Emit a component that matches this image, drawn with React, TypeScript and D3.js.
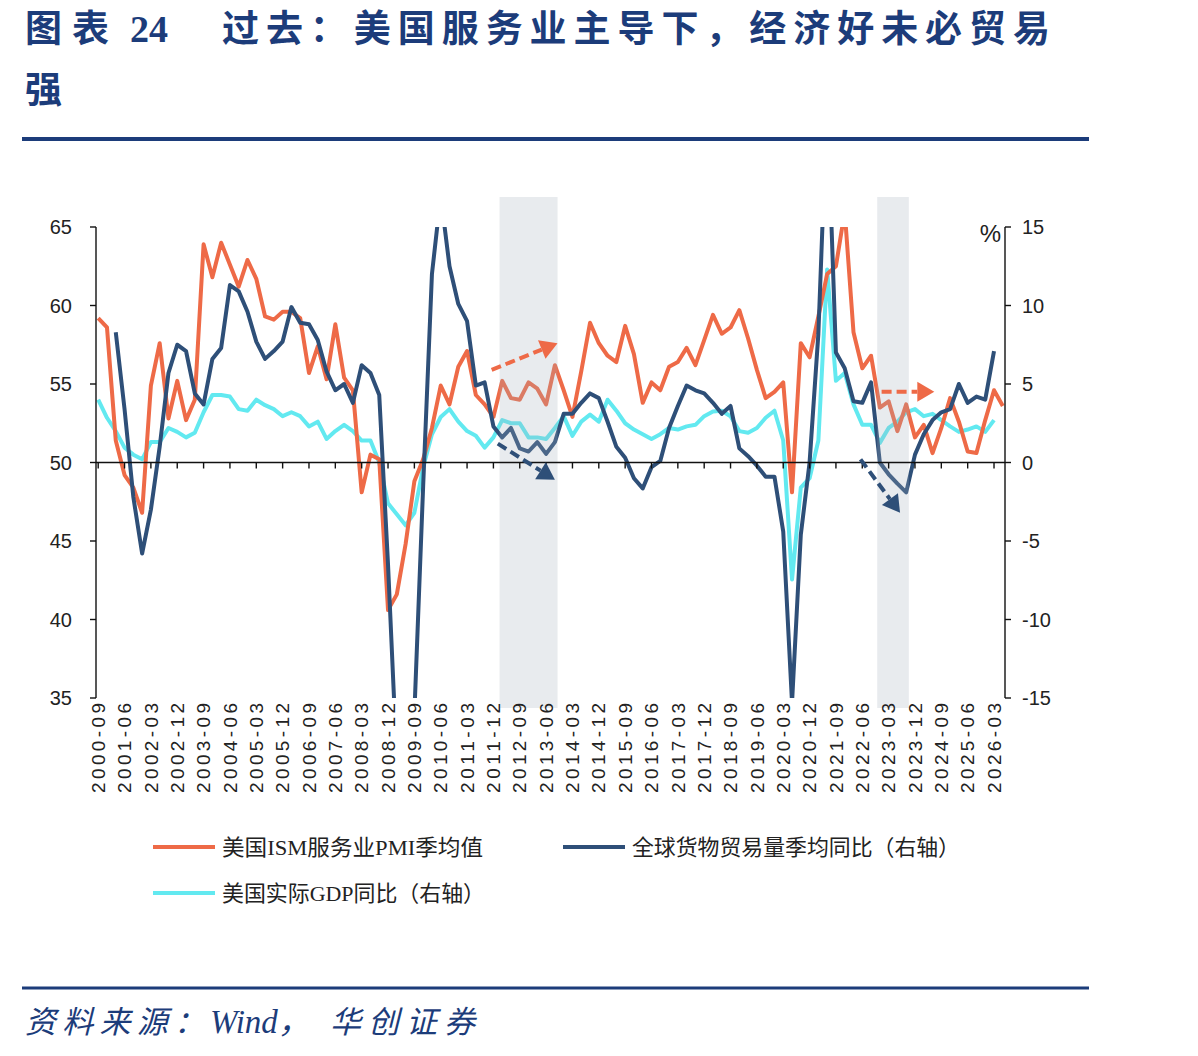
import React from 'react'
import * as d3 from 'd3'

// quarterly categories, 2000-09 .. 2026-06
const quarters: string[] = []
for (let i = 0; i < 104; i++) {
  const m = 9 + i * 3
  const yr = 2000 + Math.floor((m - 1) / 12)
  const mm = ((m - 1) % 12) + 1
  quarters.push(`${yr}-${String(mm).padStart(2, '0')}`)
}

// 美国ISM服务业PMI季均值 (left axis)
const pmi = [
  59.2, 58.6, 51.4, 49.2, 48.4, 46.8, 54.9, 57.6, 52.8, 55.2, 52.7, 54.0, 63.9, 61.8, 64.0, 62.6,
  61.2, 62.9, 61.7, 59.3, 59.1, 59.6, 59.6, 59.2, 55.7, 57.4, 55.3, 58.8, 55.4, 54.6, 48.1, 50.5,
  50.2, 40.6, 41.6, 44.8, 48.8, 50.2, 52.2, 54.9, 53.7, 56.1, 57.1, 54.3, 53.7, 52.9, 55.2, 54.1,
  54.0, 55.1, 54.7, 53.7, 56.2, 54.6, 52.9, 55.8, 58.9, 57.6, 56.8, 56.4, 58.7, 56.9, 53.8, 55.1,
  54.6, 56.1, 56.4, 57.3, 56.2, 57.8, 59.4, 58.2, 58.6, 59.7, 57.9, 55.9, 54.1, 54.5, 55.1, 48.1,
  57.6, 56.7, 59.3, 62.0, 62.5, 66.0, 58.3, 56.0, 56.8, 53.5, 53.9, 52.0, 53.7, 51.6, 52.4, 50.6,
  52.2, 54.1, 52.6, 50.7, 50.6, 52.7, 54.6, 53.6,
]

// 全球货物贸易量季均同比 (right axis, %)
const trade: (number | null)[] = [
  null, null, 8.3, 3.4, -2.2, -5.8, -3.0, 1.0, 5.7, 7.5, 7.1, 4.4, 3.7, 6.6, 7.3, 11.3,
  10.9, 9.6, 7.7, 6.6, 7.1, 7.7, 9.9, 8.9, 8.8, 7.8, 5.8, 4.6, 5.0, 3.8, 6.2, 5.7,
  4.3, -6.5, -19, -20, -16, -1.5, 12.0, 17.0, 12.5, 10.1, 9.0, 4.9, 5.1, 2.3, 1.6, 2.2,
  0.9, 0.7, 1.3, 0.55, 1.3, 3.1, 3.1, 3.8, 4.4, 4.1, 2.6, 1.0, 0.3, -1.0, -1.65, -0.3,
  0.1, 2.2, 3.6, 4.9, 4.6, 4.4, 3.8, 3.1, 3.6, 0.9, 0.4, -0.2, -0.9, -0.9, -4.4, -15.3,
  -4.6, 0.0, 8.2, 23, 7.0, 6.0, 3.9, 3.8, 5.1, 0.0, -0.75, -1.35, -1.9, 0.5, 1.8, 2.7,
  3.2, 3.4, 5.0, 3.8, 4.2, 4.0, 7.1, null,
]

// 美国实际GDP同比 (right axis, %)
const gdp: (number | null)[] = [
  4.0, 2.85, 2.0, 0.95, 0.5, 0.2, 1.3, 1.3, 2.2, 1.95, 1.6, 1.9, 3.2, 4.3, 4.3, 4.2,
  3.4, 3.3, 4.0, 3.65, 3.4, 2.95, 3.2, 2.95, 2.3, 2.6, 1.5, 2.0, 2.4, 2.0, 1.4, 1.4,
  0.0, -2.6, -3.3, -4.0, -3.2, -0.3, 1.8, 2.9, 3.4, 2.6, 2.0, 1.7, 0.95, 1.6, 2.7, 2.5,
  2.5, 1.6, 1.6, 1.5, 2.2, 2.95, 1.7, 2.6, 3.05, 2.6, 4.0, 3.3, 2.5, 2.1, 1.8, 1.5,
  1.8, 2.2, 2.1, 2.3, 2.4, 2.95, 3.25, 3.3, 2.95, 2.0, 1.9, 2.2, 2.85, 3.3, 1.4, -7.45,
  -1.6, -1.0, 1.4, 12.3, 5.2, 5.7, 3.7, 2.4, 2.4, 1.25, 2.2, 2.6, 3.2, 3.4, 2.95, 3.1,
  2.7, 2.3, 1.95, 2.1, 2.3, 1.95, 2.7, null,
]

const leftTicks = [35, 40, 45, 50, 55, 60, 65]
const rightTicks = [-15, -10, -5, 0, 5, 10, 15]
const tickLabels = quarters.filter((_, i) => i % 3 === 0)

// shaded periods (quarter labels)
const shades = [
  ['2012-03', '2013-09'],
  ['2022-12', '2023-09'],
]

// dashed arrows: [from quarter index, from value(left axis), to index, to value, series]
const arrows: [number, number, number, number, string][] = [
  [44.8, 55.9, 52.3, 57.6, 'pmi'],
  [45.5, 51.2, 52.0, 48.9, 'trade'],
  [89.2, 54.5, 95.2, 54.5, 'pmi'],
  [86.8, 50.2, 91.3, 46.8, 'trade'],
]

const colors: Record<string, string> = { pmi: '#ee6a47', trade: '#2e4f78', gdp: '#62e9f0' }
const navy = '#1c3c7a'

export default function App() {
  const x = d3.scaleLinear().domain([0, 103]).range([98.2, 1002.8])
  const yL = d3.scaleLinear().domain([35, 65]).range([698, 227])
  const yR = d3.scaleLinear().domain([-15, 15]).range([698, 227])
  const left = 96, right = 1005, top = 227, bottom = 698

  const lineL = d3.line<number>().x((_, i) => x(i)).y(d => yL(d))
  const lineR = d3.line<number | null>().defined(d => d != null).x((_, i) => x(i)).y(d => yR(d as number))

  const idx = (q: string) => quarters.indexOf(q)

  const arrowEls = arrows.map(([i0, v0, i1, v1, s], k) => {
    const x0 = x(i0), y0 = yL(v0), x1 = x(i1), y1 = yL(v1)
    const ang = Math.atan2(y1 - y0, x1 - x0)
    const hl = 17, hw = 10
    const bx = x1 - hl * Math.cos(ang), by = y1 - hl * Math.sin(ang)
    const px = -Math.sin(ang) * hw, py = Math.cos(ang) * hw
    return (
      <g key={k}>
        <line x1={x0} y1={y0} x2={bx} y2={by} stroke={colors[s]} strokeWidth={4} strokeDasharray="10,5" />
        <polygon points={`${x1},${y1} ${bx + px},${by + py} ${bx - px},${by - py}`} fill={colors[s]} />
      </g>
    )
  })

  const axisFont = '"Liberation Sans", Arial, sans-serif'
  const cjk = '"Noto Sans CJK SC", sans-serif'
  const legendFont = '"Liberation Serif", "Noto Sans CJK SC", serif'

  return (
    <svg width={1198} height={1056} style={{ position: 'absolute', left: 0, top: 0, display: 'block', background: '#fff' }}>
      <defs>
        <clipPath id="plot">
          <rect x={left} y={top} width={right - left} height={bottom - top} />
        </clipPath>
      </defs>

      {/* title */}
      <text x={25} y={42} fill={navy} fontFamily={cjk} fontWeight={700} fontSize={37} textLength={84} lengthAdjust="spacing">图表</text>
      <text x={130} y={42} fill={navy} fontFamily='"Liberation Serif", serif' fontWeight={700} fontSize={38}>24</text>
      <text x={222} y={42} fill={navy} fontFamily={cjk} fontWeight={700} fontSize={37} textLength={828} lengthAdjust="spacing">过去：美国服务业主导下，经济好未必贸易</text>
      <text x={25} y={103} fill={navy} fontFamily={cjk} fontWeight={700} fontSize={37}>强</text>
      <line x1={22} x2={1089} y1={139} y2={139} stroke={navy} strokeWidth={4} />

      {/* lines */}
      <g clipPath="url(#plot)" fill="none" strokeWidth={4} strokeLinejoin="round">
        <path d={lineR(gdp) || ''} stroke={colors.gdp} />
        <path d={lineL(pmi) || ''} stroke={colors.pmi} />
        <path d={lineR(trade) || ''} stroke={colors.trade} />
      </g>

      {/* shaded periods drawn over the lines */}
      {shades.map(([a, b], k) => (
        <rect key={k} x={x(idx(a) - 0.3)} y={197} width={x(idx(b) + 0.3) - x(idx(a) - 0.3)} height={511} fill="#a3afbb" opacity={0.25} />
      ))}

      {/* zero line with quarter ticks */}
      <line x1={left} x2={right} y1={yL(50)} y2={yL(50)} stroke="#111" strokeWidth={1.6} />
      {tickLabels.map((q, k) => (
        <line key={q} x1={x(k * 3)} x2={x(k * 3)} y1={yL(50)} y2={yL(50) + 6} stroke="#111" strokeWidth={1.4} />
      ))}

      {/* left axis */}
      <line x1={left} x2={left} y1={top} y2={bottom} stroke="#111" strokeWidth={1.4} />
      {leftTicks.map(t => (
        <g key={t}>
          <line x1={left - 6} x2={left} y1={yL(t)} y2={yL(t)} stroke="#111" strokeWidth={1.4} />
          <text x={72} y={yL(t)} dy="0.35em" textAnchor="end" fontFamily={axisFont} fontSize={20} fill="#222">{t}</text>
        </g>
      ))}

      {/* right axis */}
      <line x1={right} x2={right} y1={top} y2={bottom} stroke="#111" strokeWidth={1.4} />
      {rightTicks.map(t => (
        <g key={t}>
          <line x1={right} x2={right + 6} y1={yR(t)} y2={yR(t)} stroke="#111" strokeWidth={1.4} />
          <text x={1022} y={yR(t)} dy="0.35em" textAnchor="start" fontFamily={axisFont} fontSize={20} fill="#222">{t}</text>
        </g>
      ))}
      <text x={1001} y={242} textAnchor="end" fontFamily={axisFont} fontSize={24} fill="#222">%</text>

      {/* x tick labels */}
      {tickLabels.map((q, k) => (
        <text key={q} transform={`translate(${x(k * 3)},703) rotate(-90)`} dy="0.35em" textAnchor="end"
          fontFamily={axisFont} fontSize={19} fill="#222" textLength={90} lengthAdjust="spacing">{q}</text>
      ))}

      {arrowEls}

      {/* legend */}
      <line x1={153} x2={215} y1={847} y2={847} stroke={colors.pmi} strokeWidth={4} />
      <text x={222} y={855} fontFamily={legendFont} fontSize={22} fill="#222" textLength={261} lengthAdjust="spacingAndGlyphs">美国ISM服务业PMI季均值</text>
      <line x1={563} x2={625} y1={847} y2={847} stroke={colors.trade} strokeWidth={4} />
      <text x={632} y={855} fontFamily={legendFont} fontSize={22} fill="#222" textLength={328} lengthAdjust="spacingAndGlyphs">全球货物贸易量季均同比（右轴）</text>
      <line x1={153} x2={215} y1={893} y2={893} stroke={colors.gdp} strokeWidth={4} />
      <text x={222} y={901} fontFamily={legendFont} fontSize={22} fill="#222" textLength={263} lengthAdjust="spacingAndGlyphs">美国实际GDP同比（右轴）</text>

      {/* source */}
      <line x1={22} x2={1089} y1={988} y2={988} stroke={navy} strokeWidth={3} />
      <g fill={navy} fontStyle="italic" fontSize={31}>
        <text x={25} y={1033} fontFamily={cjk} textLength={180} lengthAdjust="spacing">资料来源：</text>
        <text x={210} y={1033} fontFamily={legendFont} fontSize={33}>Wind，</text>
        <text x={330} y={1033} fontFamily={cjk} textLength={145} lengthAdjust="spacing">华创证券</text>
      </g>
    </svg>
  )
}
